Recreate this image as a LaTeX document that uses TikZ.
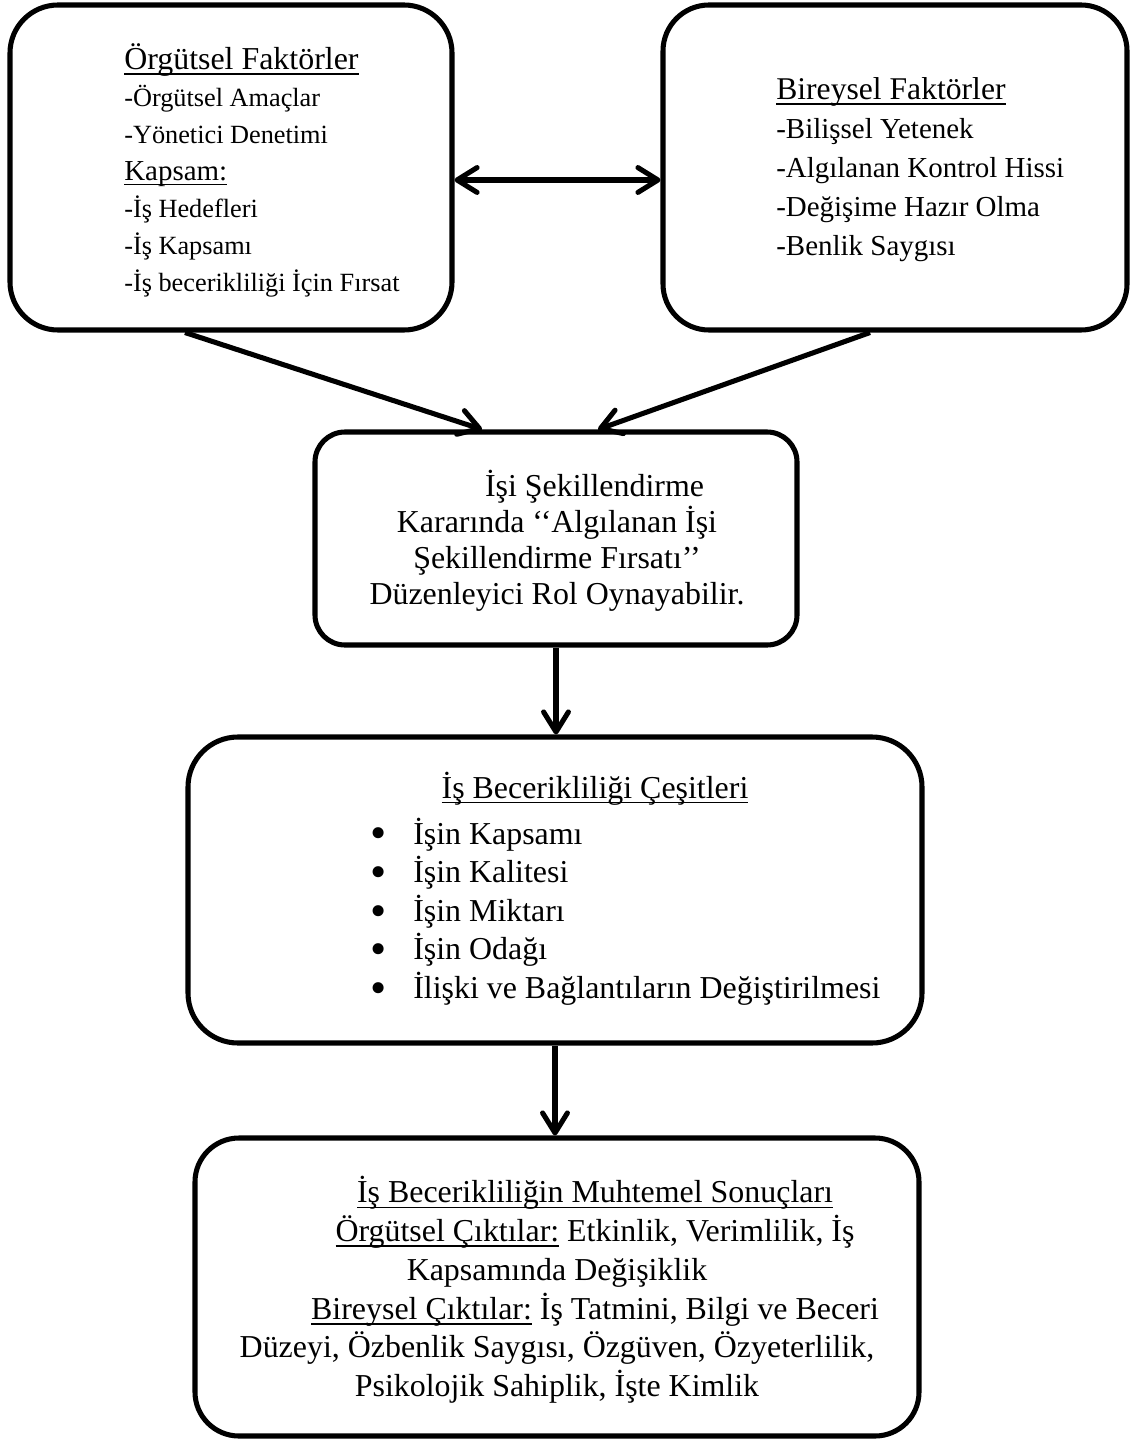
\documentclass[tikz,border=0pt]{standalone}
\usepackage{fontspec}
\setmainfont{Liberation Serif}
\usetikzlibrary{arrows.meta, positioning}

\newcommand{\uln}[1]{\setbox0\hbox{#1}\rlap{\rule[-0.17em]{\wd0}{0.05em}}\box0\relax}
\newcommand{\itembullet}{\makebox[1.075cm][l]{\smash{\raisebox{-0.15em}{\scalebox{1.45}{•}}}}}

\tikzset{
  >={Straight Barb[length=0.5cm, width=0.62cm, round]},
  roundbox/.style={draw, line width=3.6pt, rounded corners=#1, inner sep=0pt},
  roundbox/.default=1.2cm,
  flowarrow/.style={line width=3.6pt, ->},
}

\begin{document}
\begin{tikzpicture}
  \useasboundingbox (0,0) rectangle (28.25,-35.975);

  % Factor boxes
  \node[roundbox=1.2cm, minimum width=11.05cm, minimum height=8.125cm] (orgbox) at (5.775,-4.1875) {};
  \node[anchor=west, align=left, inner sep=0pt, font=\fontsize{18.7pt}{26.3pt}\selectfont] (orgtext) at (3.1,-4.26) {
    {\fontsize{22.7pt}{26.3pt}\selectfont\uln{Örgütsel Faktörler}}\\
    -Örgütsel Amaçlar\\
    -Yönetici Denetimi\\
    {\fontsize{20.6pt}{26.3pt}\selectfont\uln{Kapsam:}}\\
    -İş Hedefleri\\
    -İş Kapsamı\\
    -İş becerikliliği İçin Fırsat};

  \node[roundbox=1.15cm, minimum width=11.6cm, minimum height=8.125cm] (indbox) at (22.375,-4.1875) {};
  \node[anchor=west, align=left, inner sep=0pt, font=\fontsize{20.6pt}{27.7pt}\selectfont] (indtext) at (19.4,-4.24) {
    {\fontsize{22.5pt}{27.7pt}\selectfont\uln{Bireysel Faktörler}}\\
    -Bilişsel Yetenek\\
    -Algılanan Kontrol Hissi\\
    -Değişime Hazır Olma\\
    -Benlik Saygısı};

  % Moderator box
  \node[roundbox=0.75cm, minimum width=12.05cm, minimum height=5.325cm] (cenbox) at (13.9,-13.4625) {};
  \node[align=center, inner sep=0pt, font=\fontsize{22.7pt}{25.6pt}\selectfont] (centext) at (13.925,-13.525) {
    \hspace*{1.875cm}İşi Şekillendirme\\
    Kararında ‘‘Algılanan İşi\\
    Şekillendirme Fırsatı’’\\
    Düzenleyici Rol Oynayabilir.};

  % Types
  \node[roundbox=1.25cm, minimum width=18.35cm, minimum height=7.65cm] (typebox) at (13.875,-22.25) {};
  \node[anchor=base, inner sep=0pt, font=\fontsize{22.7pt}{27.5pt}\selectfont] (typetitle) at (14.875,-19.95) {\uln{İş Becerikliliği Çeşitleri}};
  \node[anchor=west, align=left, inner sep=0pt, font=\fontsize{22.7pt}{27.5pt}\selectfont] (typelist) at (9.25,-22.79) {
    \itembullet İşin Kapsamı\\
    \itembullet İşin Kalitesi\\
    \itembullet İşin Miktarı\\
    \itembullet İşin Odağı\\
    \itembullet İlişki ve Bağlantıların Değiştirilmesi};

  % Results
  \node[roundbox=1.1cm, minimum width=18.1cm, minimum height=7.45cm] (resbox) at (13.925,-32.175) {};
  \node[align=center, inner sep=0pt, font=\fontsize{22.7pt}{27.6pt}\selectfont] (restext) at (13.925,-32.25) {
    \hspace*{1.9cm}\uln{İş Becerikliliğin Muhtemel Sonuçları}\\
    \hspace*{1.9cm}\uln{Örgütsel Çıktılar:} Etkinlik, Verimlilik, İş\\
    Kapsamında Değişiklik\\
    \hspace*{1.9cm}\uln{Bireysel Çıktılar:} İş Tatmini, Bilgi ve Beceri\\
    Düzeyi, Özbenlik Saygısı, Özgüven, Özyeterlilik,\\
    Psikolojik Sahiplik, İşte Kimlik};

  % Arrows
  \draw[flowarrow, <->] ([yshift=-0.3125cm]orgbox.east) -- ([yshift=-0.3125cm]indbox.west);
  \draw[flowarrow] ([xshift=-1.15cm]orgbox.south) -- ([xshift=-1.85cm]cenbox.north);
  \draw[flowarrow] ([xshift=-0.625cm]indbox.south) -- ([xshift=1.05cm]cenbox.north);
  \draw[flowarrow] (cenbox.south) -- (cenbox.south |- typebox.north);
  \draw[flowarrow] (typebox.south) -- (typebox.south |- resbox.north);
\end{tikzpicture}
\end{document}
